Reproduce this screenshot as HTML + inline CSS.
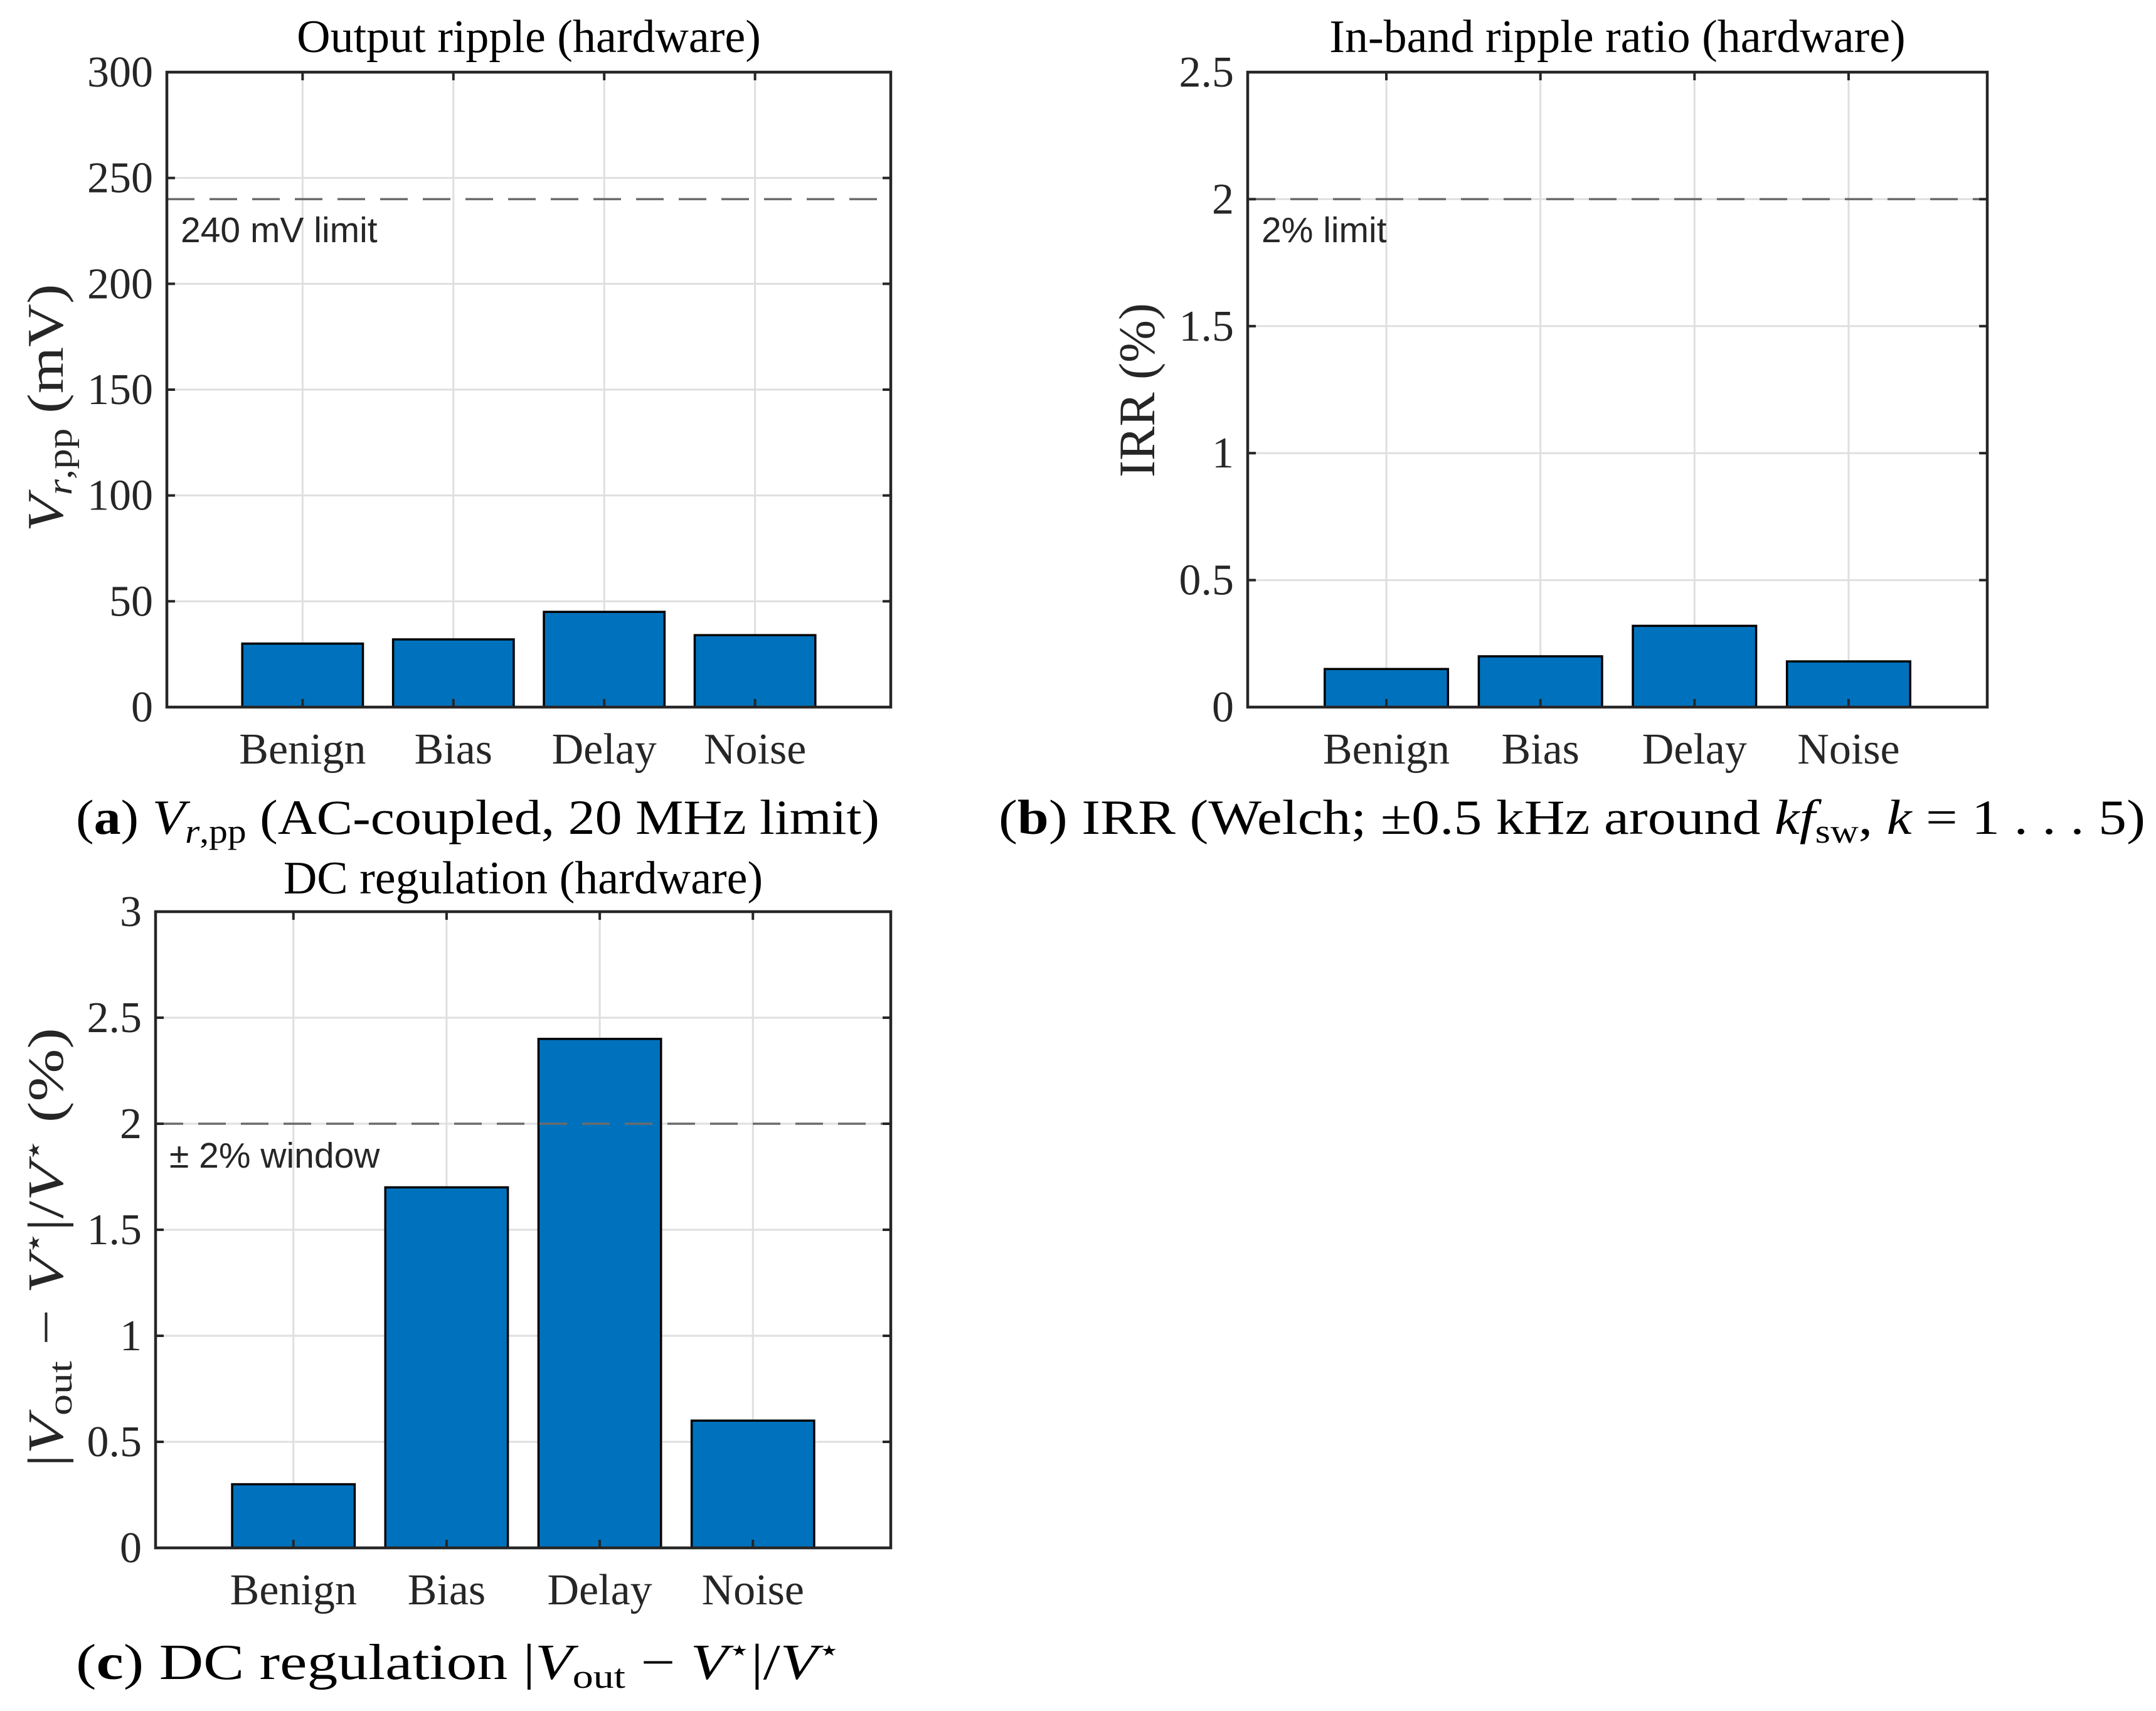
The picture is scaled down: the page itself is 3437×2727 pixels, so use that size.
<!DOCTYPE html>
<html><head><meta charset="utf-8"><style>
html,body{margin:0;padding:0;background:#fff;}
svg{display:block;}
.tick{font-family:"Liberation Serif",serif;font-size:70px;fill:#262626;}
.ttl{font-family:"Liberation Serif",serif;font-size:74px;fill:#000;}
.ann{font-family:"Liberation Sans",sans-serif;font-size:57px;fill:#262626;}
</style></head><body>
<svg id="fig" width="3437" height="2727" viewBox="0 0 3437 2727" xmlns="http://www.w3.org/2000/svg">
<rect width="3437" height="2727" fill="#fff"/>
</svg>
<script>
const categories = ["Benign","Bias","Delay","Noise"];
const rippleValues = [30, 32, 45, 34];
const irrValues = [0.15, 0.2, 0.32, 0.18];
const dcValues = [0.3, 1.7, 2.4, 0.6];
const rippleTicks = [0,50,100,150,200,250,300];
const irrTicks = [0,0.5,1,1.5,2,2.5];
const dcTicks = [0,0.5,1,1.5,2,2.5,3];
const rippleLimit = 240;
const irrLimit = 2;
const dcLimit = 2;

const NS = "http://www.w3.org/2000/svg";
const svg = document.getElementById("fig");
function mk(tag, attrs, parent, txt){
  const e = document.createElementNS(NS, tag);
  for (const k in attrs) e.setAttribute(k, attrs[k]);
  if (txt !== undefined) e.textContent = txt;
  (parent||svg).appendChild(e);
  return e;
}

function panel(id, box, values, ticks, ymax, limit, annText, annY, title, titleY){
  const g = mk("g", {});
  
  
  const xs = v => box.l + (v - 0.1) / 4.8 * (box.r - box.l);
  const ys = v => box.b - v / ymax * (box.b - box.t);
  ticks.forEach(t => {
    if (t === 0 || t === ymax) return;
    const gl = mk("line", {x1:box.l, x2:box.r, y1:ys(t), y2:ys(t), stroke:"#dfdfdf", "stroke-width":3}, g);
    
    
  });
  categories.forEach((c, i) => {
    const gl = mk("line", {x1:xs(i+1), x2:xs(i+1), y1:box.t, y2:box.b, stroke:"#dfdfdf", "stroke-width":3}, g);
    
    
  });
  values.forEach((v, i) => {
    const w = 0.8 / 4.8 * (box.r - box.l);
    const r = mk("rect", {x:xs(i+1) - w/2, y:ys(v), width:w, height:box.b - ys(v), fill:"#0072BD", stroke:"#000", "stroke-width":3.5}, g);
    
    
  });
  const ll = mk("line", {x1:box.l, x2:box.r, y1:ys(limit), y2:ys(limit), stroke:"#6b6b6b", "stroke-width":3.5, "stroke-dasharray":"44 24"}, g);
  
  
  const an = mk("text", {x:box.l + 22, y:annY, class:"ann"}, g, annText);
  
  
  const ax = mk("rect", {x:box.l, y:box.t, width:box.r - box.l, height:box.b - box.t, fill:"none", stroke:"#262626", "stroke-width":4.5}, g);
  
  
  ticks.forEach(t => {
    mk("line", {x1:box.l, x2:box.l + 13, y1:ys(t), y2:ys(t), stroke:"#262626", "stroke-width":4}, g);
    mk("line", {x1:box.r, x2:box.r - 13, y1:ys(t), y2:ys(t), stroke:"#262626", "stroke-width":4}, g);
    const tl = mk("text", {x:box.l - 22, y:ys(t) + 23, class:"tick", "text-anchor":"end"}, g, String(t));
    
    
  });
  categories.forEach((c, i) => {
    mk("line", {x1:xs(i+1), x2:xs(i+1), y1:box.b, y2:box.b - 13, stroke:"#262626", "stroke-width":4}, g);
    mk("line", {x1:xs(i+1), x2:xs(i+1), y1:box.t, y2:box.t + 13, stroke:"#262626", "stroke-width":4}, g);
    const xl = mk("text", {x:xs(i+1), y:box.b + 90, class:"tick", "text-anchor":"middle"}, g, c);
    
    
  });
  const tt = mk("text", {x:(box.l + box.r)/2, y:titleY, class:"ttl", "text-anchor":"middle"}, g, title);
  
  
  return g;
}

panel("ripple", {l:266, r:1420, t:115, b:1127}, rippleValues, rippleTicks, 300, rippleLimit, "240 mV limit", 386, "Output ripple (hardware)", 83);
panel("irr", {l:1989, r:3168, t:115, b:1127}, irrValues, irrTicks, 2.5, irrLimit, "2% limit", 386, "In-band ripple ratio (hardware)", 83);
panel("dc", {l:248, r:1420, t:1453, b:2467}, dcValues, dcTicks, 3, dcLimit, "\u00B1 2% window", 1861, "DC regulation (hardware)", 1424);
</script>
<div style="position:absolute;left:0;top:0;">
<svg width="3437" height="2727" style="position:absolute;left:0;top:0;" xmlns="http://www.w3.org/2000/svg">
  <text transform="translate(100,650) rotate(-90)" text-anchor="middle" font-family="Liberation Serif, serif" font-size="82" fill="#262626" textLength="395" lengthAdjust="spacingAndGlyphs"><tspan font-style="italic">V</tspan><tspan font-style="italic" font-size="56" dy="14">r</tspan><tspan font-size="56">,pp</tspan><tspan dy="-14">  (mV)</tspan></text>
  <text transform="translate(1840,622) rotate(-90)" text-anchor="middle" font-family="Liberation Serif, serif" font-size="82" fill="#262626" textLength="278" lengthAdjust="spacingAndGlyphs">IRR (%)</text>
  <text transform="translate(100,1988) rotate(-90)" text-anchor="middle" font-family="Liberation Serif, serif" font-size="80" fill="#262626" textLength="700" lengthAdjust="spacingAndGlyphs">|<tspan font-style="italic">V</tspan><tspan font-size="54" dy="14">out</tspan><tspan dy="-14"> − </tspan><tspan font-style="italic">V</tspan><tspan font-size="48" dy="-30">⋆</tspan><tspan dy="30">|/</tspan><tspan font-style="italic">V</tspan><tspan font-size="48" dy="-30">⋆</tspan><tspan dy="30"> (%)</tspan></text>
  <text x="121" y="1329" font-family="Liberation Serif, serif" font-size="78" fill="#000" textLength="1281" lengthAdjust="spacingAndGlyphs">(<tspan font-weight="bold">a</tspan>) <tspan font-style="italic">V</tspan><tspan font-style="italic" font-size="54" dy="14">r</tspan><tspan font-size="54">,pp</tspan><tspan dy="-14"> (AC-coupled, 20 MHz limit)</tspan></text>
  <text x="1592" y="1329" font-family="Liberation Serif, serif" font-size="78" fill="#000" textLength="1828" lengthAdjust="spacingAndGlyphs">(<tspan font-weight="bold">b</tspan>) IRR (Welch; ±0.5 kHz around <tspan font-style="italic">kf</tspan><tspan font-size="54" dy="14">sw</tspan><tspan dy="-14">, </tspan><tspan font-style="italic">k</tspan> = 1 . . . 5)</text>
  <text x="121" y="2676" font-family="Liberation Serif, serif" font-size="80" fill="#000" textLength="1219" lengthAdjust="spacingAndGlyphs">(<tspan font-weight="bold">c</tspan>) DC regulation |<tspan font-style="italic">V</tspan><tspan font-size="54" dy="14">out</tspan><tspan dy="-14"> − </tspan><tspan font-style="italic">V</tspan><tspan font-size="48" dy="-30">⋆</tspan><tspan dy="30">|/</tspan><tspan font-style="italic">V</tspan><tspan font-size="48" dy="-30">⋆</tspan></text>
</svg>
</div>
</body></html>
